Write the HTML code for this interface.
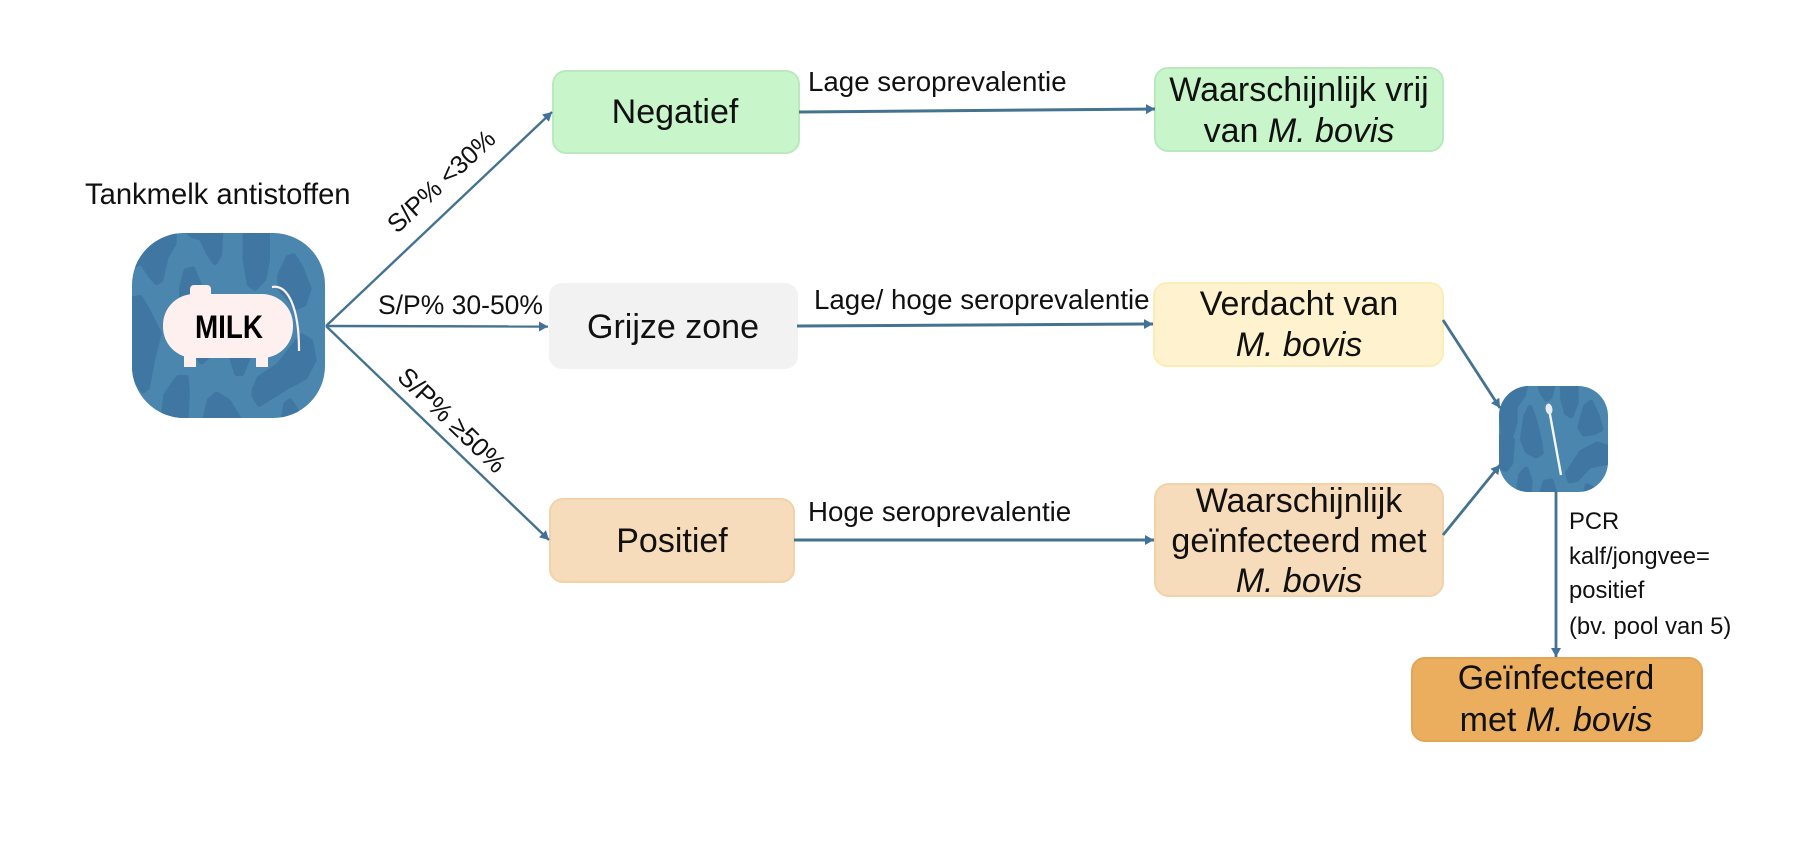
<!DOCTYPE html>
<html><head><meta charset="utf-8"><style>
html,body{margin:0;padding:0;background:#fff;width:1805px;height:851px;overflow:hidden}
svg{display:block}
text{font-family:"Liberation Sans",Arial,sans-serif;fill:#111}
.b{font-size:34px;text-anchor:middle}
.l{font-size:27.7px}
.s{font-size:23.8px}
.bl{fill:#3f77a2;stroke:#3f77a2;stroke-width:16;stroke-linejoin:round}
</style></head><body>
<svg width="1805" height="851" viewBox="0 0 1805 851" xmlns="http://www.w3.org/2000/svg">
<defs>
<marker id="a" markerUnits="userSpaceOnUse" markerWidth="12" markerHeight="12" refX="9" refY="5" orient="auto"><path d="M0 0L9 5L0 10Z" fill="#41729a"/></marker>
<clipPath id="c1"><rect x="132" y="233" width="193" height="185" rx="52"/></clipPath>
<clipPath id="c2"><rect x="1499" y="386" width="109" height="106" rx="30"/></clipPath>
</defs>

<rect x="132" y="233" width="193" height="185" rx="52" fill="#4a86ae"/>
<g clip-path="url(#c1)"><g transform="translate(100 160) scale(.3333)" class="bl">
<polygon points="90,322 110,300 125,225 222,215 222,250 198,290 182,360 170,367 150,345 125,305"/>
<polygon points="265,215 362,215 358,285 345,307 325,278 305,235 275,225"/>
<polygon points="436,215 502,215 502,300 492,355 465,384 448,372 436,300"/>
<polygon points="540,345 565,293 580,288 602,322 627,385 612,432 590,442 540,385"/>
<polygon points="245,385 258,333 278,328 297,372 297,420 245,420"/>
<polygon points="90,418 120,413 145,455 177,520 157,600 142,682 130,692 90,640"/>
<polygon points="188,790 198,705 235,653 258,653 262,700 257,790"/>
<polygon points="313,790 328,722 350,703 385,725 425,790"/>
<polygon points="463,690 478,655 535,617 605,528 632,545 642,600 615,652 558,682 478,732 463,708"/>
<polygon points="548,790 558,732 570,723 590,755 605,790"/>
<polygon points="395,590 445,590 425,640 410,640"/>
<polygon points="295,590 322,590 305,605"/>
</g></g>
<g fill="#fdf0ee">
<rect x="163" y="294" width="130" height="64" rx="31"/>
<rect x="190" y="285" width="21" height="14" rx="4"/>
<rect x="184" y="350" width="12" height="17"/>
<rect x="256" y="350" width="12" height="17"/>
</g>
<path d="M272 287C288 284 299 308 299 350V351" fill="none" stroke="#fdf0ee" stroke-width="2.2"/>
<text x="195" y="338" font-size="32" font-weight="bold" textLength="68" lengthAdjust="spacingAndGlyphs" style="fill:#000">MILK</text>
<text x="85" y="204" class="l" style="font-size:29.2px">Tankmelk antistoffen</text>

<rect x="553" y="71" width="246" height="82" rx="13" fill="#c9f5cb" stroke="#b9e9bd" stroke-width="2"/>
<rect x="1155" y="68" width="288" height="83" rx="13" fill="#c9f5cb" stroke="#b9e9bd" stroke-width="2"/>
<rect x="549" y="283" width="249" height="86" rx="13" fill="#f2f2f2"/>
<rect x="1154" y="283" width="289" height="83" rx="13" fill="#fff3cf" stroke="#fcedb6" stroke-width="2"/>
<rect x="550" y="499" width="244" height="83" rx="13" fill="#f6dcbb" stroke="#f2d2a8" stroke-width="2"/>
<rect x="1155" y="484" width="288" height="112" rx="14" fill="#f6dcbb" stroke="#f2d2a8" stroke-width="2"/>
<rect x="1412" y="658" width="290" height="83" rx="13" fill="#ebae5e" stroke="#e2a556" stroke-width="2"/>

<rect x="1499" y="386" width="109" height="106" rx="30" fill="#4a86ae"/>
<g clip-path="url(#c2)"><g transform="translate(1440 340) scale(.3333)" class="bl">
<polygon points="170,195 185,130 258,130 250,165 225,200 225,245 215,282 190,275 185,225"/>
<polygon points="270,203 283,240 298,300 303,338 288,347 262,333 248,298 257,232"/>
<polygon points="300,130 340,130 330,170 320,177 305,155"/>
<polygon points="367,130 408,130 408,188 393,227 380,218 369,178"/>
<polygon points="420,262 437,200 453,188 473,232 482,267 463,277 432,282"/>
<polygon points="170,298 205,278 217,302 212,368 198,387 170,380"/>
<polygon points="383,400 425,337 472,313 510,325 510,365 447,378 410,418 390,422"/>
<polygon points="233,470 243,404 258,388 270,422 267,470"/>
<polygon points="303,470 315,427 333,423 347,470"/>
<polygon points="433,470 442,438 455,445 465,470"/>
</g></g>
<line x1="1549" y1="409" x2="1561" y2="475" stroke="#f4f6f8" stroke-width="2.4"/>
<ellipse cx="1549" cy="409" rx="3.4" ry="5.5" fill="#e8edf1" transform="rotate(-10 1549 409)"/>

<g fill="none" stroke="#44738f" stroke-width="2.4" marker-end="url(#a)">
<path d="M326 326L552 112"/>
<path d="M326 326L548 326.5"/>
<path d="M326 326L549 540"/>
<path d="M799 112L1155 109" stroke-width="3"/>
<path d="M797 326L1153 324" stroke-width="3"/>
<path d="M794 540L1154 540" stroke-width="3"/>
<path d="M1443 320L1500 408" stroke-width="2.8"/>
<path d="M1443 535L1500 465" stroke-width="2.8"/>
<path d="M1556 492L1556 657" stroke-width="2.8"/>
</g>

<text class="b" x="675" y="123">Negatief</text>
<text class="b" x="1299" y="101">Waarschijnlijk vrij</text>
<text class="b" x="1299" y="142">van <tspan font-style="italic">M. bovis</tspan></text>
<text class="b" x="673" y="338">Grijze zone</text>
<text class="b" x="1299" y="315">Verdacht van</text>
<text class="b" x="1299" y="356" font-style="italic">M. bovis</text>
<text class="b" x="672" y="552">Positief</text>
<text class="b" x="1299" y="512">Waarschijnlijk</text>
<text class="b" x="1299" y="552">geïnfecteerd met</text>
<text class="b" x="1299" y="592" font-style="italic">M. bovis</text>
<text class="b" x="1556" y="689">Geïnfecteerd</text>
<text class="b" x="1556" y="731">met <tspan font-style="italic">M. bovis</tspan></text>

<text class="l" x="808" y="91">Lage seroprevalentie</text>
<text class="l" x="814" y="309" style="font-size:27.7px">Lage/ hoge seroprevalentie</text>
<text class="l" x="808" y="521">Hoge seroprevalentie</text>
<text class="l" x="378" y="314" style="font-size:26.5px">S/P% 30-50%</text>
<text class="l" text-anchor="middle" transform="translate(441 181) rotate(-43)" y="9" style="font-size:25.5px">S/P% &lt;30%</text>
<text class="l" text-anchor="middle" transform="translate(452 420) rotate(44)" y="9" style="font-size:26px">S/P% ≥50%</text>

<text class="s" x="1569" y="529">PCR</text>
<text class="s" x="1569" y="564">kalf/jongvee=</text>
<text class="s" x="1569" y="598">positief</text>
<text class="s" x="1569" y="634">(bv. pool van 5)</text>
</svg>
</body></html>
